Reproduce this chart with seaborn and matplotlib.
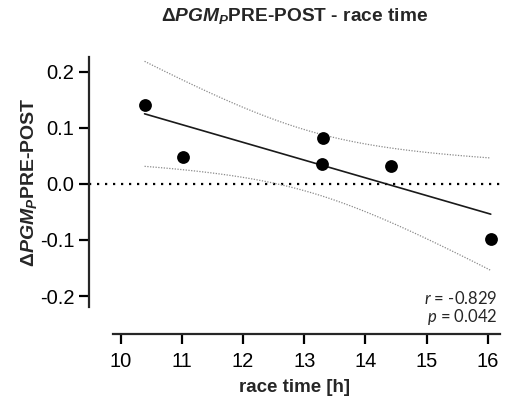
import numpy as np
import pandas as pd
import matplotlib
matplotlib.use("Agg")
import matplotlib.pyplot as plt
import seaborn as sns

# data
race_time = [10.39, 11.02, 13.31, 13.29, 14.42, 16.05]
delta_pgm = [0.141, 0.048, 0.083, 0.036, 0.032, -0.099]
x_ticks = [10, 11, 12, 13, 14, 15, 16]
y_ticks = [-0.2, -0.1, 0.0, 0.1, 0.2]
r_text = "-0.829"
p_text = "0.042"

sns.set_theme(style="ticks")
plt.rcParams["font.family"] = ["Liberation Sans", "DejaVu Sans"]
plt.rcParams["axes.unicode_minus"] = False
plt.rcParams["mathtext.fontset"] = "custom"
plt.rcParams["mathtext.rm"] = "Liberation Sans:bold"
plt.rcParams["mathtext.bf"] = "Liberation Sans:bold"
plt.rcParams["mathtext.bfit"] = "Liberation Sans:italic:bold"
plt.rcParams["mathtext.it"] = "Lato:italic"

df = pd.DataFrame({"race_time": race_time, "delta": delta_pgm})

fig = plt.figure(figsize=(5.07, 4.01), dpi=100)
W, H = 507, 401
left, right, top, bottom = 89, 500, 57, 307
ax = fig.add_axes([left / W, 1 - bottom / H, (right - left) / W, (bottom - top) / H])

# regression and 95% CI
x = np.array(race_time)
y = np.array(delta_pgm)
n = len(x)
b1, b0 = np.polyfit(x, y, 1)
xg = np.linspace(x.min(), x.max(), 100)
yg = b0 + b1 * xg
resid = y - (b0 + b1 * x)
s = np.sqrt(np.sum(resid ** 2) / (n - 2))
sxx = np.sum((x - x.mean()) ** 2)
tval = 2.776
se = s * np.sqrt(1 / n + (xg - x.mean()) ** 2 / sxx)

ax.axhline(0, color="black", lw=1.6, ls=(0, (1, 2.6)), zorder=1)
ax.plot(xg, yg + tval * se, color="#8a8a8a", lw=0.9, ls=(0, (1, 1.2)), zorder=2)
ax.plot(xg, yg - tval * se, color="#8a8a8a", lw=0.9, ls=(0, (1, 1.2)), zorder=2)
ax.plot(xg, yg, color="#1a1a1a", lw=1.2, zorder=3)

sns.scatterplot(data=df, x="race_time", y="delta", ax=ax, color="black",
                s=85, edgecolor="black", linewidth=0, zorder=4)

# x pixel mapping: 10 -> 120.7, 16 -> 487.7
px_per = (487.7 - 120.7) / 6
ax.set_xlim(10 + (left - 120.7) / px_per, 10 + (right - 120.7) / px_per)
ax.set_ylim(-0.2 - 11 / 560, 0.2 + 15 / 560)
ax.set_xticks(x_ticks)
ax.set_yticks(y_ticks)
ax.set_xticklabels([str(t) for t in x_ticks])
ax.set_yticklabels([f"{t:.1f}" for t in y_ticks])

for side in ["top", "right"]:
    ax.spines[side].set_visible(False)
ax.spines["left"].set_linewidth(1.6)
ax.spines["bottom"].set_linewidth(1.6)
ax.spines["bottom"].set_position(("outward", 19.4))
ax.spines["bottom"].set_bounds(9.88, 16.2)
ax.tick_params(axis="both", length=7.5, width=1.6, labelsize=14.5, color="black",
               labelcolor="black", pad=3)
ax.tick_params(axis="x", pad=5.5)

ax.set_xlabel("race time [h]", fontsize=13.5, fontweight="bold", labelpad=6)
ax.set_ylabel(r"$\Delta\mathbfit{PGM}_{\mathbfit{P}}$PRE-POST", fontsize=14,
              fontweight="bold", labelpad=1)
ax.set_title(r"$\Delta\mathbfit{PGM}_{\mathbfit{P}}$PRE-POST - race time",
             fontsize=13.8, fontweight="bold", pad=26)

ax.text(0.995, 0.0, f"$r$ = {r_text}", transform=ax.transAxes, ha="right",
        va="bottom", fontsize=12, family=["Lato", "DejaVu Sans"])
ax.text(0.995, -0.08, f"$p$ = {p_text}", transform=ax.transAxes, ha="right",
        va="bottom", fontsize=12, family=["Lato", "DejaVu Sans"])

fig.savefig("out.png", dpi=100)
